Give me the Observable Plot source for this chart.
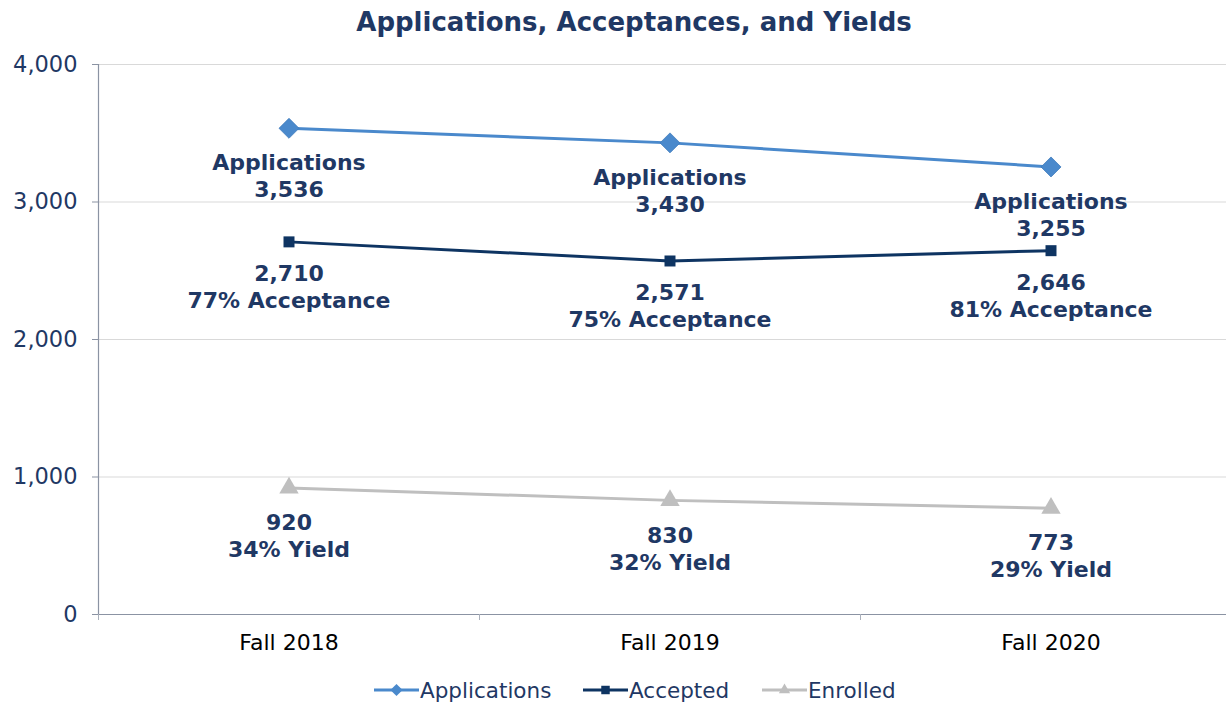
<!DOCTYPE html>
<html>
<head>
<meta charset="utf-8">
<script src="https://cdn.jsdelivr.net/npm/d3@7"></script>
<script src="https://cdn.jsdelivr.net/npm/@observablehq/plot@0.6"></script>
<style>
  html, body { margin:0; padding:0; background:#fff; }
  body { width:1226px; height:704px; position:relative; overflow:hidden; font-family:"DejaVu Sans", Verdana, sans-serif; }
  #title { position:absolute; left:0; top:0; width:1226px; height:44px; text-align:center; padding-left:42px; box-sizing:border-box;
           font-weight:bold; font-size:26px; line-height:44px; color:#1F3864; }
  #chart { position:absolute; left:0; top:44px; }
  #legend { position:absolute; left:0; top:676px; width:1226px; height:28px; font-size:21.5px; color:#1F3864; }
  .item { position:absolute; top:0; height:28px; display:flex; align-items:center; white-space:nowrap; }
  .item svg { display:block; }
  #chart g[aria-label="y-axis tick label"] { fill:#1F3864; }
  #chart g[aria-label="x-axis tick label"] { fill:#000; }
</style>
</head>
<body>
<div id="title">Applications, Acceptances, and Yields</div>
<div id="chart"></div>
<div id="legend"></div>
<script>
const terms = ["Fall 2018", "Fall 2019", "Fall 2020"];
const applications = [3536, 3430, 3255];
const accepted = [2710, 2571, 2646];
const enrolled = [920, 830, 773];
const acceptanceRates = ["77%", "75%", "81%"];
const yieldRates = ["34%", "32%", "29%"];
const yTicks = [0, 1000, 2000, 3000, 4000];
const seriesNames = ["Applications", "Accepted", "Enrolled"];
const seriesColors = ["#4A89CC", "#0E3462", "#BFBFBF"];

const fmt = d3.format(",");
const rows = terms.map((t, i) => ({
  i, term: t,
  applications: applications[i], accepted: accepted[i], enrolled: enrolled[i],
  accRate: acceptanceRates[i], yieldRate: yieldRates[i]
}));

const labelStyle = { fontSize: 22, fontWeight: "bold", fill: "#1F3864", lineHeight: 1.23 };

const chart = Plot.plot({
  width: 1226, height: 628,
  marginLeft: 98, marginRight: 0, marginTop: 20, marginBottom: 58,
  x: { domain: [-0.5, 2.5], range: [98, 1241] },
  y: { domain: [0, 4000] },
  style: { fontFamily: "DejaVu Sans, Verdana, sans-serif", background: "transparent", overflow: "visible" },
  marks: [
    Plot.ruleY(yTicks.filter(d => d > 0), { stroke: "#d9d9d9", strokeWidth: 1 }),
    Plot.ruleY([0], { stroke: "#8b93a3", strokeWidth: 1.2 }),
    Plot.ruleX([-0.5], { y1: 0, y2: 4000, stroke: "#8b93a3", strokeWidth: 1.2 }),
    Plot.axisY({ ticks: yTicks, tickFormat: fmt, tickSize: 6, tickPadding: 15, fontSize: 22.5, stroke: "#8b93a3", fill: "#1F3864", label: null }),
    Plot.axisX({ ticks: [-0.5, 0.5, 1.5], tickSize: 6, tickFormat: () => "", stroke: "#aab0bb", label: null }),
    Plot.axisX({ ticks: [0, 1, 2], tickSize: 0, tickPadding: 20, tickFormat: i => terms[i], fontSize: 22, fill: "#000", label: null }),

    Plot.line(rows, { x: "i", y: "applications", stroke: seriesColors[0], strokeWidth: 3 }),
    Plot.line(rows, { x: "i", y: "accepted", stroke: seriesColors[1], strokeWidth: 3 }),
    Plot.line(rows, { x: "i", y: "enrolled", stroke: seriesColors[2], strokeWidth: 3 }),

    Plot.dot(rows, { x: "i", y: "applications", symbol: "diamond2", r: 9, fill: seriesColors[0], stroke: "#3f7bbd", strokeWidth: 0.8 }),
    Plot.dot(rows, { x: "i", y: "accepted", symbol: "square", r: 6.2, fill: seriesColors[1], stroke: "none" }),
    Plot.dot(rows, { x: "i", y: "enrolled", symbol: "triangle", r: 7.2, fill: seriesColors[2], stroke: "none" }),

    Plot.text(rows, { x: "i", y: "applications", text: d => `Applications\n${fmt(d.applications)}`, dy: 47, ...labelStyle }),
    Plot.text(rows, { x: "i", y: "accepted", text: d => `${fmt(d.accepted)}\n${d.accRate} Acceptance`, dy: 44, ...labelStyle }),
    Plot.text(rows, { x: "i", y: "enrolled", text: d => `${fmt(d.enrolled)}\n${d.yieldRate} Yield`, dy: 47, ...labelStyle })
  ]
});
document.getElementById("chart").appendChild(chart);

// Legend
const legend = d3.select("#legend");
const itemLeft = [374, 583, 762];
const symbols = [d3.symbolDiamond2, d3.symbolSquare, d3.symbolTriangle];
const symbolSizes = [95, 72, 55];
seriesNames.forEach((name, k) => {
  const item = legend.append("div").attr("class", "item").style("left", itemLeft[k] + "px");
  const svg = item.append("svg").attr("width", 46).attr("height", 20);
  svg.append("line").attr("x1", 0).attr("x2", 45).attr("y1", 10).attr("y2", 10)
     .attr("stroke", seriesColors[k]).attr("stroke-width", 3);
  svg.append("path").attr("transform", "translate(22.5,10)")
     .attr("d", d3.symbol(symbols[k], symbolSizes[k])()).attr("fill", seriesColors[k]);
  item.append("span").text(name);
});
</script>
</body>
</html>
